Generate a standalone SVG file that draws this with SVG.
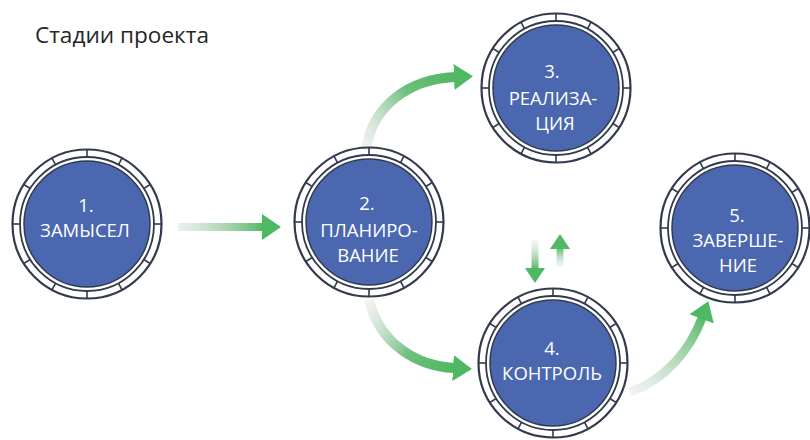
<svg xmlns="http://www.w3.org/2000/svg" width="810" height="440" viewBox="0 0 810 440">
<style>
.title{font-family:"Open Sans","Noto Sans",sans-serif;font-size:22.6px;fill:#262626}
.lbl{font-family:"Open Sans","Noto Sans",sans-serif;font-size:18.5px;fill:#ffffff;text-anchor:middle}
.ln{stroke:#323a4e;fill:none}
.tick{stroke:#323a4e;stroke-width:1.6}
.core{fill:#4a67b0;stroke:#323a4e;stroke-width:1.5}
.arr{fill:none;stroke-linecap:butt}
</style>
<defs>
<g id="ring">
<circle r="74.5" fill="#ffffff" class="ln" stroke-width="2.2"/>
<g class="tick">
<line x1="67" y1="0" x2="74.5" y2="0"/>
<line x1="67" y1="0" x2="74.5" y2="0" transform="rotate(32)"/>
<line x1="67" y1="0" x2="74.5" y2="0" transform="rotate(62)"/>
<line x1="67" y1="0" x2="74.5" y2="0" transform="rotate(90)"/>
<line x1="67" y1="0" x2="74.5" y2="0" transform="rotate(118)"/>
<line x1="67" y1="0" x2="74.5" y2="0" transform="rotate(148)"/>
<line x1="67" y1="0" x2="74.5" y2="0" transform="rotate(180)"/>
<line x1="67" y1="0" x2="74.5" y2="0" transform="rotate(212)"/>
<line x1="67" y1="0" x2="74.5" y2="0" transform="rotate(242)"/>
<line x1="67" y1="0" x2="74.5" y2="0" transform="rotate(270)"/>
<line x1="67" y1="0" x2="74.5" y2="0" transform="rotate(298)"/>
<line x1="67" y1="0" x2="74.5" y2="0" transform="rotate(328)"/>
</g>
<circle r="67" class="ln" stroke-width="1.8"/>
<circle r="63" class="core"/>
</g>
<marker id="head" markerUnits="userSpaceOnUse" markerWidth="20" markerHeight="28" refX="1" refY="14" orient="auto" viewBox="0 0 20 28">
<path d="M0,1 L19,14 L0,27 Z" fill="#4fb862"/>
</marker>
<marker id="headS" markerUnits="userSpaceOnUse" markerWidth="16" markerHeight="22" refX="1" refY="11" orient="auto" viewBox="0 0 16 22">
<path d="M0,1 L15,11 L0,21 Z" fill="#4fb862"/>
</marker>
<linearGradient id="g12" gradientUnits="userSpaceOnUse" x1="178" y1="227" x2="264" y2="227">
<stop offset="0" stop-color="#d0d8d2" stop-opacity="0.4"/><stop offset="1" stop-color="#4fb862"/>
</linearGradient>
<linearGradient id="g23" gradientUnits="userSpaceOnUse" x1="366" y1="150" x2="455" y2="77">
<stop offset="0" stop-color="#d0d8d2" stop-opacity="0.3"/><stop offset="0.6" stop-color="#6cc07c"/><stop offset="1" stop-color="#4fb862"/>
</linearGradient>
<linearGradient id="g24" gradientUnits="userSpaceOnUse" x1="369" y1="300" x2="454" y2="368">
<stop offset="0" stop-color="#d0d8d2" stop-opacity="0.3"/><stop offset="0.6" stop-color="#6cc07c"/><stop offset="1" stop-color="#4fb862"/>
</linearGradient>
<linearGradient id="g45" gradientUnits="userSpaceOnUse" x1="630" y1="392" x2="705" y2="315">
<stop offset="0" stop-color="#d0d8d2" stop-opacity="0.3"/><stop offset="1" stop-color="#4fb862"/>
</linearGradient>
<linearGradient id="gdn" gradientUnits="userSpaceOnUse" x1="535" y1="240" x2="535" y2="269">
<stop offset="0" stop-color="#d0d8d2" stop-opacity="0.2"/><stop offset="1" stop-color="#4fb862"/>
</linearGradient>
<linearGradient id="gup" gradientUnits="userSpaceOnUse" x1="560" y1="267" x2="560" y2="247">
<stop offset="0" stop-color="#d0d8d2" stop-opacity="0.2"/><stop offset="1" stop-color="#4fb862"/>
</linearGradient>
</defs>
<rect width="810" height="440" fill="#ffffff"/>
<text class="title" x="35" y="43">Стадии проекта</text>
<g id="connectors">
<path class="arr" d="M178,227 L263,227" stroke="url(#g12)" stroke-width="8" marker-end="url(#head)"/>
<path class="arr" d="M366,150 C372,105 410,79 455,77" stroke="url(#g23)" stroke-width="10" marker-end="url(#head)"/>
<path class="arr" d="M369,300 C380,345 418,366 454,368" stroke="url(#g24)" stroke-width="10" marker-end="url(#head)"/>
<path class="arr" d="M630,392 C665,380 690,350 702,318" stroke="url(#g45)" stroke-width="9" marker-end="url(#head)"/>
<path class="arr" d="M535,240 L535,269" stroke="url(#gdn)" stroke-width="7" marker-end="url(#headS)"/>
<path class="arr" d="M560,267 L560,248" stroke="url(#gup)" stroke-width="7" marker-end="url(#headS)"/>
</g>
<g id="node1">
<use href="#ring" x="87" y="224"/>
<text class="lbl" x="86" y="212">1.</text>
<text class="lbl" x="85" y="237">ЗАМЫСЕЛ</text>
</g>
<g id="node2">
<use href="#ring" x="369" y="222"/>
<text class="lbl" x="367" y="210">2.</text>
<text class="lbl" x="369" y="237">ПЛАНИРО-</text>
<text class="lbl" x="368" y="262">ВАНИЕ</text>
</g>
<g id="node3">
<use href="#ring" x="556" y="88"/>
<text class="lbl" x="552" y="78">3.</text>
<text class="lbl" x="553" y="105">РЕАЛИЗА-</text>
<text class="lbl" x="555" y="130">ЦИЯ</text>
</g>
<g id="node4">
<use href="#ring" x="553" y="363"/>
<text class="lbl" x="552" y="355">4.</text>
<text class="lbl" x="552" y="380">КОНТРОЛЬ</text>
</g>
<g id="node5">
<use href="#ring" x="735" y="228"/>
<text class="lbl" x="737" y="222">5.</text>
<text class="lbl" x="738" y="247">ЗАВЕРШЕ-</text>
<text class="lbl" x="738" y="272">НИЕ</text>
</g>
</svg>
